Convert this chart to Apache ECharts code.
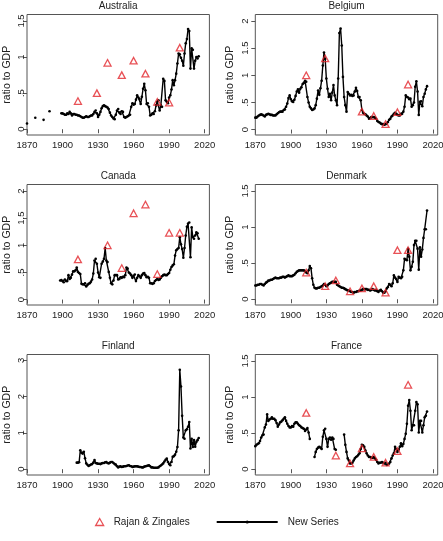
<!DOCTYPE html>
<html>
<head>
<meta charset="utf-8">
<title>Stock market capitalisation to GDP</title>
<script src="https://cdn.jsdelivr.net/npm/echarts@6/dist/echarts.min.js"></script>
<style>
  html, body { margin: 0; padding: 0; background: #fff; }
  #chart { width: 443px; height: 541px; }
</style>
</head>
<body>
<div id="chart"></div>
<script>
// ---- data ----
const countries = ['Australia', 'Belgium', 'Canada', 'Denmark', 'Finland', 'France'];

const xTicks = [1870, 1900, 1930, 1960, 1990, 2020];

// Rajan & Zingales benchmark years
const rzYears = [1913, 1929, 1938, 1950, 1960, 1970, 1980, 1990, 1999];
const rzAustralia = [0.39, 0.50, 0.92, 0.75, 0.95, 0.77, 0.38, 0.37, 1.13];
const rzBelgium   = [1.00, 1.31, null, null, 0.33, 0.25, 0.10, 0.32, 0.83];
const rzCanada    = [0.74, null, 1.00, 0.58, 1.59, 1.75, 0.47, 1.23, 1.23];
const rzDenmark   = [0.37, 0.18, 0.26, 0.11, 0.15, 0.18, 0.09, 0.68, 0.68];
const rzFinland   = [];
const rzFrance    = [0.78, null, 0.19, 0.08, 0.29, 0.17, 0.09, 0.25, 1.17];

// New series (annual)
const australiaEarlyYears = [1870, 1877, 1884, 1889];
const australiaEarly = [0.08, 0.16, 0.13, 0.25];
const australiaStart = 1899;
const australia = [
  0.22, 0.22, 0.21, 0.20, 0.20, 0.22, 0.21, 0.24, 0.22, 0.19, 0.21,
  0.21, 0.20, 0.20, 0.19, 0.19, 0.18, 0.17, 0.16, 0.16, 0.17,
  0.18, 0.17, 0.17, 0.18, 0.19, 0.19, 0.21, 0.24, 0.26, 0.22,
  0.17, 0.20, 0.24, 0.29, 0.32, 0.33, 0.32, 0.31, 0.30, 0.28,
  0.23, 0.19, 0.17, 0.15, 0.14, 0.20, 0.26, 0.28, 0.23, 0.21,
  0.25, 0.24, 0.17, 0.16, 0.17, 0.18, 0.19, 0.20, 0.31, 0.36,
  0.34, 0.35, 0.41, 0.47, 0.44, 0.42, 0.35, 0.45, 0.56, 0.63,
  0.54, 0.35, 0.36, 0.31, 0.19, 0.20, 0.22, 0.21, 0.25, 0.33,
  0.38, 0.40, 0.26, 0.33, 0.31, 0.70, 0.67, 0.40, 0.38, 0.36,
  0.44, 0.47, 0.55, 0.68, 0.61, 0.68, 0.77, 0.91, 1.05, 1.04,
  0.99, 0.95, 0.88, 1.05, 1.19, 1.25, 1.39, 1.36, 0.84, 1.12,
  1.10, 0.84, 0.95, 1.00, 0.98, 1.01
];

const belgiumStart = 1870;
const belgium = [
  0.22, 0.22, 0.24, 0.26, 0.27, 0.28, 0.27, 0.26, 0.24, 0.27,
  0.28, 0.29, 0.28, 0.27, 0.27, 0.26, 0.26, 0.26, 0.28, 0.30,
  0.32, 0.33, 0.33, 0.33, 0.36, 0.37, 0.42, 0.48, 0.58, 0.63,
  0.56, 0.52, 0.51, 0.55, 0.62, 0.70, 0.74, 0.68, 0.75, 0.78,
  0.84, 0.86, 0.90, 0.88, 0.60, 0.50, 0.42, 0.39, 0.36, 0.37,
  0.39, 0.45, 0.57, 0.72, 0.64, 0.76, 0.90, 1.18, 1.42, 1.30,
  0.94, 0.75, 0.60, 0.66, 0.54, 0.68, 0.82, 0.63, 0.54, 0.45,
  0.94, 1.78, 1.86, 1.55, 0.97, 0.60, 0.45, 0.33, 0.69, 0.66,
  0.63, 0.64, 0.62, 0.63, 0.70, 0.77, 0.71, 0.60, 0.60, 0.54,
  0.36, 0.31, 0.29, 0.28, 0.26, 0.24, 0.20, 0.21, 0.23, 0.23,
  0.23, 0.22, 0.20, 0.16, 0.14, 0.13, 0.11, 0.10, 0.10, 0.09,
  0.10, 0.11, 0.14, 0.18, 0.20, 0.24, 0.26, 0.29, 0.31, 0.29,
  0.27, 0.26, 0.26, 0.29, 0.29, 0.33, 0.42, 0.63, 0.60, 0.59,
  0.56, 0.57, 0.42, 0.45, 0.50, 0.79, 0.89, 0.70, 0.27, 0.51,
  0.52, 0.43, 0.60, 0.66, 0.74, 0.80
];

const canadaStart = 1898;
const canada = [
  0.35, 0.36,
  0.34, 0.32, 0.37, 0.34, 0.34, 0.45, 0.38, 0.40, 0.46, 0.52,
  0.52, 0.54, 0.59, 0.51, 0.49, 0.47, 0.29, 0.28, 0.28, 0.30,
  0.24, 0.27, 0.29, 0.30, 0.33, 0.37, 0.48, 0.72, 0.75, 0.66,
  0.50, 0.41, 0.40, 0.66, 0.70, 0.75, 0.95, 0.72, 0.69, 0.51,
  0.40, 0.30, 0.28, 0.35, 0.45, 0.45, 0.45, 0.37, 0.38, 0.41,
  0.40, 0.42, 0.41, 0.45, 0.59, 0.57, 0.50, 0.48, 0.45, 0.40,
  0.44, 0.46, 0.34, 0.40, 0.45, 0.43, 0.40, 0.45, 0.48, 0.49,
  0.45, 0.41, 0.42, 0.40, 0.30, 0.30, 0.29, 0.30, 0.34, 0.36,
  0.38, 0.36, 0.37, 0.40, 0.43, 0.45, 0.46, 0.45, 0.45, 0.47,
  0.49, 0.55, 0.60, 0.63, 0.65, 0.81, 0.91, 0.93, 0.95, 1.15,
  1.02, 0.93, 0.77, 0.95, 1.18, 1.34, 1.40, 1.42, 0.78, 1.33,
  1.15, 1.12, 1.18, 1.24, 1.22, 1.12
];

const denmarkStart = 1870;
const denmark = [
  0.19, 0.19, 0.20, 0.20, 0.21, 0.21, 0.20, 0.19, 0.21, 0.23,
  0.24, 0.26, 0.26, 0.27, 0.27, 0.28, 0.29, 0.30, 0.29, 0.29,
  0.29, 0.30, 0.30, 0.31, 0.31, 0.30, 0.31, 0.32, 0.33, 0.32,
  0.32, 0.32, 0.33, 0.34, 0.36, 0.38, 0.39, 0.40, 0.40, 0.40,
  0.40, 0.40, 0.39, 0.37, 0.36, 0.40, 0.46, 0.43, 0.29, 0.20,
  0.16, 0.15, 0.15, 0.16, 0.16, 0.17, 0.18, 0.19, 0.21, 0.20,
  0.18, 0.19, 0.21, 0.22, 0.23, 0.24, 0.24, 0.24, 0.24, 0.20,
  0.19, 0.18, 0.17, 0.16, 0.16, 0.15, 0.14, 0.13, 0.12, 0.12,
  0.11, 0.10, 0.10, 0.09, 0.10, 0.10, 0.11, 0.11, 0.12, 0.12,
  0.13, 0.14, 0.14, 0.14, 0.14, 0.13, 0.13, 0.12, 0.13, 0.14,
  0.13, 0.12, 0.13, 0.11, 0.10, 0.12, 0.13, 0.11, 0.09, 0.09,
  0.11, 0.15, 0.17, 0.21, 0.20, 0.18, 0.22, 0.33, 0.30, 0.28,
  0.24, 0.31, 0.30, 0.29, 0.31, 0.40, 0.56, 0.55, 0.54, 0.70,
  0.59, 0.40, 0.45, 0.52, 0.75, 0.81, 0.81, 0.70, 0.41, 0.72,
  0.59, 0.69, 0.85, 0.97, 0.97, 1.23
];

const finlandStart = 1912;
const finland = [
  0.18, 0.18, 0.19, 0.52, 0.45, 0.43, 0.48, 0.30,
  0.16, 0.12, 0.09, 0.11, 0.13, 0.14, 0.18, 0.25, 0.17, 0.16,
  0.15, 0.15, 0.14, 0.16, 0.17, 0.17, 0.19, 0.20, 0.17, 0.16,
  0.18, 0.20, 0.20, 0.17, 0.14, 0.13, 0.08, 0.05, 0.07, 0.08,
  0.06, 0.07, 0.08, 0.08, 0.09, 0.10, 0.11, 0.09, 0.08, 0.06,
  0.07, 0.08, 0.08, 0.08, 0.07, 0.06, 0.06, 0.05, 0.05, 0.07,
  0.08, 0.09, 0.10, 0.11, 0.08, 0.05, 0.05, 0.04, 0.04, 0.04,
  0.04, 0.05, 0.08, 0.10, 0.13, 0.16, 0.21, 0.26, 0.29, 0.20,
  0.14, 0.11, 0.20, 0.34, 0.36, 0.40, 0.48, 0.61, 1.07, 2.74,
  2.28, 1.47, 0.87, 0.84, 1.07, 1.10, 1.17, 1.30, 0.57, 0.84,
  0.61, 0.80, 0.62, 0.75, 0.80, 0.86
];

const franceStartA = 1870;
const franceA = [
  0.32, 0.34, 0.35, 0.36, 0.39, 0.44, 0.47, 0.48, 0.58, 0.62,
  0.76, 0.67, 0.69, 0.70, 0.72, 0.70, 0.70, 0.68, 0.64, 0.59,
  0.62, 0.65, 0.66, 0.68, 0.70, 0.72, 0.67, 0.63, 0.60, 0.58,
  0.58, 0.60, 0.59, 0.63, 0.65, 0.65, 0.63, 0.61, 0.60, 0.58,
  0.57, 0.56, 0.53, 0.55, 0.57, 0.51, 0.42
];
const franceStartB = 1920;
const franceB = [
  0.17, 0.24, 0.28, 0.30, 0.31, 0.30, 0.28, 0.45, 0.54, 0.56,
  0.42, 0.31, 0.42, 0.44, 0.41, 0.44, 0.42, 0.28, 0.27
];
const franceStartC = 1945;
const franceC = [
  0.48, 0.34, 0.24, 0.15, 0.12,
  0.08, 0.08, 0.09, 0.12, 0.15, 0.17, 0.18, 0.20, 0.22, 0.28,
  0.34, 0.33, 0.31, 0.26, 0.22, 0.19, 0.17, 0.17, 0.16, 0.16,
  0.17, 0.15, 0.13, 0.10, 0.08, 0.09, 0.09, 0.10, 0.09, 0.08,
  0.09, 0.06, 0.07, 0.08, 0.10, 0.15, 0.19, 0.22, 0.31, 0.28,
  0.24, 0.27, 0.31, 0.36, 0.32, 0.35, 0.42, 0.49, 0.63, 0.88,
  0.96, 0.81, 0.54, 0.61, 0.61, 0.81, 0.93, 0.90, 0.51, 0.67,
  0.67, 0.51, 0.61, 0.72, 0.74, 0.80
];

const yTicks15 = [0, 0.5, 1, 1.5];
const yTicks2 = [0, 0.5, 1, 1.5, 2];
const yTicks3 = [0, 1, 2, 3];

// ---- helpers ----
function seg(start, values) {
  return values.map((v, k) => [start + k, v]);
}
function withGaps(segs) {
  const out = [];
  segs.forEach((s, k) => {
    if (k > 0) out.push([s[0][0] - 1, null]);
    s.forEach(p => out.push(p));
  });
  return out;
}
function rzData(vals) {
  return rzYears.map((y, k) => [y, vals[k]]).filter(p => p[1] != null);
}

const lineData = [
  withGaps(australiaEarlyYears.map((y, k) => [[y, australiaEarly[k]]])
    .concat([seg(australiaStart, australia)])),
  seg(belgiumStart, belgium),
  seg(canadaStart, canada),
  seg(denmarkStart, denmark),
  seg(finlandStart, finland),
  withGaps([seg(franceStartA, franceA), seg(franceStartB, franceB), seg(franceStartC, franceC)])
];
const rzSets = [rzAustralia, rzBelgium, rzCanada, rzDenmark, rzFinland, rzFrance];

// ---- layout ----
const FONT = 'Liberation Sans, Arial, Helvetica, sans-serif';
const RED = '#e2262c';
const FRAME = '#555';
const TEXT = '#222';
const colLeft = [27, 255.3];
const rowTop = [14.5, 184.5, 354.5];
const boxW = 182.4, boxH = 120.5;
const yRange = [[-0.08, 1.59], [-0.1, 2.12], [-0.1, 2.12], [-0.08, 1.59], [-0.16, 3.16], [-0.08, 1.59]];
const yTickSets = [yTicks15, yTicks2, yTicks2, yTicks15, yTicks3, yTicks15];

function fmt(v) {
  return String(v).replace(/^0\./, '.');
}

const grids = [], xAxes = [], yAxes = [], titles = [], series = [];
countries.forEach((name, i) => {
  const col = i % 2, row = Math.floor(i / 2);
  const left = colLeft[col], top = rowTop[row];
  grids.push({
    left: left, top: top, width: boxW, height: boxH,
    show: true, borderColor: FRAME, borderWidth: 1,
    backgroundColor: 'transparent', outerBoundsMode: 'none'
  });
  titles.push({
    text: name, left: left + boxW / 2, top: top - 13, textAlign: 'center', padding: 0,
    textStyle: { fontFamily: FONT, fontSize: 10, fontWeight: 'normal', color: TEXT }
  });
  xAxes.push({
    gridIndex: i, type: 'value', min: 1870, max: 2024,
    axisLine: { show: false }, splitLine: { show: false },
    axisTick: { show: true, length: 4, customValues: xTicks, lineStyle: { color: FRAME } },
    axisLabel: {
      customValues: xTicks, formatter: v => String(v),
      fontFamily: FONT, fontSize: 9.5, color: TEXT, margin: 5
    }
  });
  yAxes.push({
    gridIndex: i, type: 'value', min: yRange[i][0], max: yRange[i][1],
    axisLine: { show: false }, splitLine: { show: false },
    axisTick: { show: true, length: 4, customValues: yTickSets[i], lineStyle: { color: FRAME } },
    axisLabel: {
      customValues: yTickSets[i], rotate: 90, formatter: fmt,
      fontFamily: FONT, fontSize: 9.5, color: TEXT, margin: col === 0 ? 1 : 5
    },
    name: 'ratio to GDP', nameLocation: 'middle', nameGap: col === 0 ? 14 : 20,
    nameTextStyle: { fontFamily: FONT, fontSize: 10.5, color: TEXT }
  });
  series.push({
    name: 'New Series', type: 'line', xAxisIndex: i, yAxisIndex: i,
    data: lineData[i], connectNulls: false,
    symbol: 'circle', symbolSize: 2.6, showSymbol: true, showAllSymbol: true,
    itemStyle: { color: '#000' }, lineStyle: { color: '#000', width: 1.4 },
    emphasis: { disabled: true }, animation: false, z: 2
  });
  const rz = rzData(rzSets[i]);
  if (rz.length) {
    series.push({
      name: 'Rajan & Zingales', type: 'scatter', xAxisIndex: i, yAxisIndex: i,
      data: rz, symbol: 'triangle', symbolSize: [7, 6.5],
      itemStyle: { color: 'rgba(0,0,0,0)', borderColor: RED, borderWidth: 1.3 },
      emphasis: { disabled: true }, animation: false, z: 3
    });
  }
});

const chart = echarts.init(document.getElementById('chart'), null, { renderer: 'canvas' });
chart.setOption({
  backgroundColor: '#fff',
  animation: false,
  textStyle: { fontFamily: FONT },
  title: titles,
  grid: grids,
  xAxis: xAxes,
  yAxis: yAxes,
  legend: [
    {
      data: [{ name: 'Rajan & Zingales', icon: 'triangle' }],
      left: 95, top: 517, padding: 0, selectedMode: false,
      itemWidth: 8, itemHeight: 7,
      itemStyle: { color: 'rgba(0,0,0,0)', borderColor: RED, borderWidth: 1.3 },
      textStyle: { fontFamily: FONT, fontSize: 10, color: TEXT, padding: [0, 0, 0, 5] }
    },
    {
      data: ['New Series'],
      left: 215.7, top: 517, padding: 0, selectedMode: false,
      itemWidth: 61, itemHeight: 4,
      textStyle: { fontFamily: FONT, fontSize: 10, color: TEXT, padding: [0, 0, 0, 5] }
    }
  ],
  series: series
});
</script>
</body>
</html>
